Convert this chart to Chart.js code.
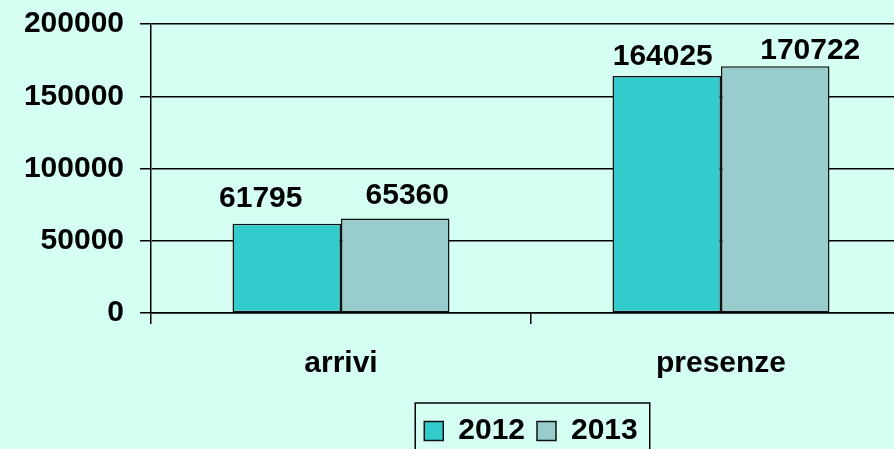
<!DOCTYPE html>
<html lang="it">
<head>
  <meta charset="UTF-8">
  <title>Arrivi e presenze 2012-2013</title>
  <style>
    * { box-sizing: border-box; margin: 0; padding: 0; }
    html, body {
      width: 894px;
      height: 449px;
      overflow: hidden;
      background: #d6fff3;
    }
    .wrap {
      width: 911px;
      height: 456px;
      position: relative;
    }
  </style>
</head>
<body>
  <div class="wrap">
    <canvas id="chart"></canvas>
  </div>

  <script src="https://cdn.jsdelivr.net/npm/chart.js@4"></script>
  <script>
    const categories = ['arrivi', 'presenze'];
    const years = ['2012', '2013'];
    const values2012 = [61795, 164025];
    const values2013 = [65360, 170722];
    const yTicks = [0, 50000, 100000, 150000, 200000];

    const FONT = "'Liberation Sans', Arial, sans-serif";

    // labels in the original were nudged by hand: [dx, gap above bar]
    const labelNudge = [
      [[-26, 17], [-4, 11]],
      [[12, 15], [35, 7]]
    ];

    const valueLabels = {
      id: 'valueLabels',
      afterDatasetsDraw(chart) {
        const ctx = chart.ctx;
        ctx.save();
        ctx.font = 'bold 30px ' + FONT;
        ctx.fillStyle = '#000';
        ctx.textAlign = 'center';
        ctx.textBaseline = 'alphabetic';
        chart.data.datasets.forEach((ds, di) => {
          chart.getDatasetMeta(di).data.forEach((bar, i) => {
            const [dx, gap] = labelNudge[di][i];
            ctx.fillText(String(ds.data[i]), bar.x + dx, bar.y - gap);
          });
        });
        ctx.restore();
      }
    };

    const legendFrame = {
      id: 'legendFrame',
      afterDraw(chart) {
        const boxes = chart.legend.legendHitBoxes;
        if (!boxes || !boxes.length) return;
        const first = boxes[0], last = boxes[boxes.length - 1];
        const ctx = chart.ctx;
        ctx.save();
        ctx.strokeStyle = '#000';
        ctx.lineWidth = 1.5;
        ctx.strokeRect(first.left - 9, first.top - 13, last.left + last.width - first.left + 21, 70);
        ctx.restore();
      }
    };

    new Chart(document.getElementById('chart'), {
      type: 'bar',
      data: {
        labels: categories,
        datasets: [
          { label: years[0], data: values2012, backgroundColor: '#33cccc', borderColor: '#111', borderWidth: 1.5, borderSkipped: false },
          { label: years[1], data: values2013, backgroundColor: '#99cccc', borderColor: '#111', borderWidth: 1.5, borderSkipped: false }
        ]
      },
      options: {
        responsive: true,
        maintainAspectRatio: false,
        animation: false,
        categoryPercentage: 0.571,
        barPercentage: 1,
        layout: { padding: { top: 24, right: 0, bottom: 0, left: 0 } },
        scales: {
          x: {
            grid: { drawOnChartArea: false, drawTicks: true, tickLength: 11, color: '#000', lineWidth: 1.5 },
            border: { display: true, color: '#000', width: 1.5 },
            ticks: { color: '#000', padding: 22, font: { family: FONT, size: 30, weight: 'bold' } }
          },
          y: {
            min: 0,
            max: 200000,
            afterBuildTicks: s => { s.ticks = yTicks.map(v => ({ value: v })); },
            afterFit: s => { s.width = 151; s.paddingTop = 0; s.paddingBottom = 0; },
            grid: { color: '#000', lineWidth: 1.5, tickLength: 11 },
            border: { display: true, color: '#000', width: 1.5 },
            ticks: { color: '#000', padding: 16, callback: v => String(v), font: { family: FONT, size: 30, weight: 'bold' } }
          }
        },
        plugins: {
          legend: {
            position: 'bottom',
            fullSize: false,
            labels: {
              color: '#000',
              boxWidth: 19,
              boxHeight: 19,
              padding: 12,
              font: { family: FONT, size: 30, weight: 'bold' }
            }
          },
          tooltip: { enabled: false }
        }
      },
      plugins: [valueLabels, legendFrame]
    });
  </script>
</body>
</html>
